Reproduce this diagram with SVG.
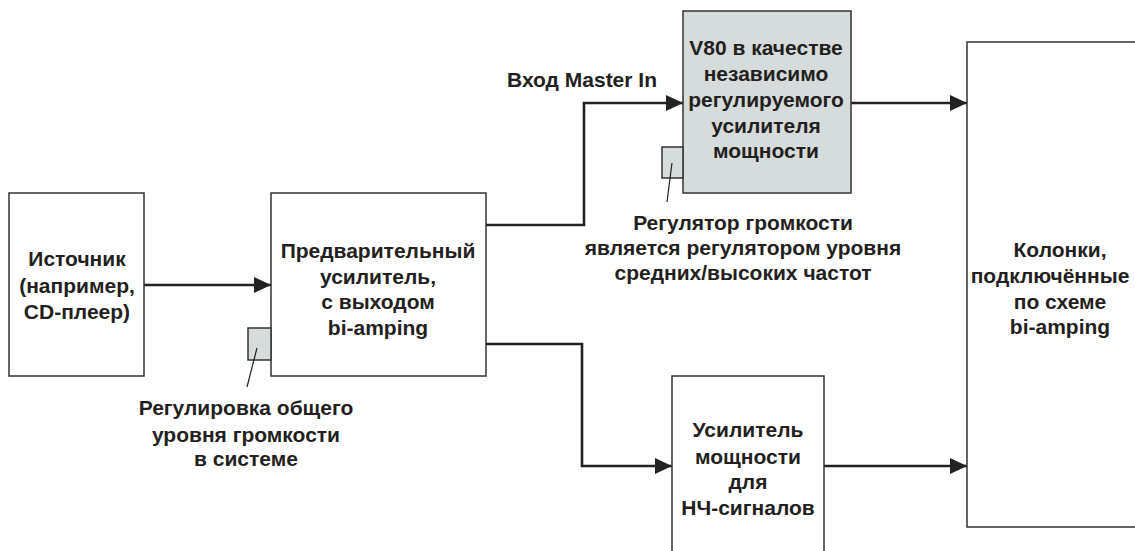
<svg xmlns="http://www.w3.org/2000/svg" width="1135" height="551" viewBox="0 0 1135 551">
<style>
.box{fill:#fff;stroke:#333;stroke-width:1.5}
.gray{fill:#d6dbdb;stroke:#333;stroke-width:1.5}
.knob{fill:#d6dbdb;stroke:#333;stroke-width:1.5}
.wire{fill:none;stroke:#222;stroke-width:2.6}
.lead{fill:none;stroke:#222;stroke-width:1.2}
text{font-family:"Liberation Sans",Arial,sans-serif;font-weight:bold;font-size:21px;fill:#231f20;text-anchor:middle}
</style>
<defs>
<marker id="ah" markerUnits="userSpaceOnUse" markerWidth="18" markerHeight="16" refX="17" refY="8" orient="auto">
<path d="M0,0 L17,8 L0,16 Z" fill="#222"/>
</marker>
</defs>
<g id="connectors">
<path class="wire" d="M144,285 H271" marker-end="url(#ah)"/>
<path class="wire" d="M486,225 H584 V103 H683" marker-end="url(#ah)"/>
<path class="wire" d="M851,103 H967" marker-end="url(#ah)"/>
<path class="wire" d="M486,344 H582 V466 H672" marker-end="url(#ah)"/>
<path class="wire" d="M824,466 H967" marker-end="url(#ah)"/>
</g>
<g id="source">
<rect class="box" x="9" y="193" width="135" height="183"/>
<text x="77" y="266">Источник</text>
<text x="77" y="293">(например,</text>
<text x="77" y="319">CD-плеер)</text>
</g>
<g id="preamp">
<rect class="box" x="271" y="193" width="215" height="183"/>
<text x="378" y="258">Предварительный</text>
<text x="378" y="284">усилитель,</text>
<text x="378" y="309">с выходом</text>
<text x="378" y="335">bi-amping</text>
</g>
<g id="master-volume">
<rect class="knob" x="248" y="328" width="23" height="32"/>
<path class="lead" d="M257,348 L247,387"/>
<text x="246" y="415">Регулировка общего</text>
<text x="246" y="442">уровня громкости</text>
<text x="246" y="466">в системе</text>
</g>
<g id="v80">
<rect class="gray" x="683" y="11" width="168" height="182"/>
<text x="766" y="55">V80 в качестве</text>
<text x="766" y="81">независимо</text>
<text x="766" y="107">регулируемого</text>
<text x="766" y="133">усилителя</text>
<text x="766" y="158">мощности</text>
</g>
<g id="master-in-label">
<text x="582" y="87">Вход Master In</text>
</g>
<g id="v80-volume">
<rect class="knob" x="662" y="147" width="21" height="31"/>
<path class="lead" d="M672,163 L667,202"/>
<text x="743" y="230">Регулятор громкости</text>
<text x="743" y="255">является регулятором уровня</text>
<text x="743" y="280">средних/высоких частот</text>
</g>
<g id="lf-amp">
<rect class="box" x="672" y="376" width="152" height="190"/>
<text x="748" y="437">Усилитель</text>
<text x="748" y="464">мощности</text>
<text x="748" y="489">для</text>
<text x="748" y="515">НЧ-сигналов</text>
</g>
<g id="speakers">
<rect class="box" x="967" y="42" width="190" height="485"/>
<text x="1060" y="257">Колонки,</text>
<text x="1050" y="283">подключённые</text>
<text x="1060" y="309">по схеме</text>
<text x="1060" y="334">bi-amping</text>
</g>
</svg>
